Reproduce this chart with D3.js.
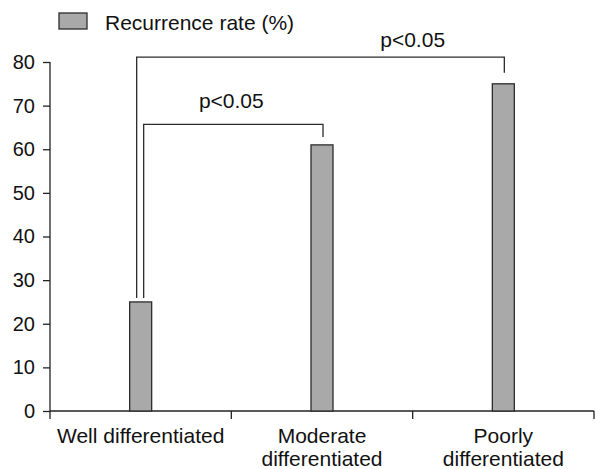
<!DOCTYPE html>
<html>
<head>
<meta charset="utf-8">
<script src="https://cdn.jsdelivr.net/npm/d3@7"></script>
<style>
  body { margin: 0; background: #fff; }
  text { font-family: "Liberation Sans", Arial, sans-serif; fill: #111; }
</style>
</head>
<body>
<svg id="chart" width="595" height="469"></svg>
<script>
const categories = ["Well differentiated", "Moderate\ndifferentiated", "Poorly\ndifferentiated"];
const recurrence = [25, 61, 75];
const yTicks = [0, 10, 20, 30, 40, 50, 60, 70, 80];
// significance brackets: from category, to category, bracket level (in %)
const brackets = [
  { from: 0, to: 1, level: 65.7, label: "p<0.05" },
  { from: 0, to: 2, level: 81.1, label: "p<0.05" }
];
// bracket drawing tweaks (px): leg offsets from bar centres, gap above bars, label gap
const bracketStyle = [
  { dxFrom: 3, dxTo: 1, gapTo: 8, labelGap: 16 },
  { dxFrom: -4, dxTo: 1, gapTo: 11, labelGap: 10.5 }
];

const colors = { bar: '#a9a9a9', stroke: '#2b2b2b', axis: '#222' };
const margin = { top: 62, right: 1, bottom: 58, left: 50 };
const width = 595, height = 469;

const svg = d3.select("#chart");

const x = d3.scaleBand()
  .domain(d3.range(categories.length))
  .range([margin.left, width - margin.right])
  .paddingInner(0).paddingOuter(0);

const y = d3.scaleLinear()
  .domain([0, 80])
  .range([height - margin.bottom, margin.top]);

const barW = 22;

// y axis
const yAxis = svg.append("g")
  .attr("transform", `translate(${margin.left},0)`)
  .call(d3.axisLeft(y).tickValues(yTicks).tickSize(7).tickPadding(8));
yAxis.select(".domain").attr("stroke", colors.axis).attr("stroke-width", 1.3)
  .attr("d", `M0,${y(80)}V${y(0) + 8}`);
yAxis.selectAll(".tick line").attr("stroke", colors.axis).attr("stroke-width", 1.3);
yAxis.selectAll(".tick text").style("font-size", "20px").attr("fill", "#111");

// x axis with ticks at band boundaries
const xAxis = svg.append("g").attr("transform", `translate(0,${y(0)})`);
xAxis.append("line")
  .attr("x1", margin.left).attr("x2", width - margin.right)
  .attr("stroke", colors.axis).attr("stroke-width", 1.3);
const bounds = d3.range(categories.length + 1).map(i => margin.left + i * x.bandwidth());
xAxis.selectAll("line.tick")
  .data(bounds.slice(1))
  .enter().append("line")
  .attr("class", "tick")
  .attr("x1", d => d).attr("x2", d => d)
  .attr("y1", 0).attr("y2", 8)
  .attr("stroke", colors.axis).attr("stroke-width", 1.3);

xAxis.selectAll("text.cat")
  .data(categories)
  .enter().append("text")
  .attr("class", "cat")
  .attr("text-anchor", "middle")
  .style("font-size", "21px")
  .attr("x", (d, i) => x(i) + x.bandwidth() / 2)
  .each(function (d) {
    const lines = d.split("\n");
    d3.select(this).selectAll("tspan")
      .data(lines)
      .enter().append("tspan")
      .attr("x", d3.select(this).attr("x"))
      .attr("y", (l, j) => 32 + j * 23)
      .text(l => l);
  });

// bars
svg.selectAll("rect.bar")
  .data(recurrence)
  .enter().append("rect")
  .attr("class", "bar")
  .attr("x", (d, i) => x(i) + x.bandwidth() / 2 - barW / 2)
  .attr("y", d => y(d))
  .attr("width", barW)
  .attr("height", d => y(0) - y(d))
  .attr("fill", colors.bar)
  .attr("stroke", colors.stroke)
  .attr("stroke-width", 1.3);

// brackets
const cx = i => x(i) + x.bandwidth() / 2;
brackets.forEach((b, k) => {
  const s = bracketStyle[k];
  const x1 = cx(b.from) + s.dxFrom, x2 = cx(b.to) + s.dxTo;
  const yl = y(b.level);
  svg.append("path")
    .attr("d", `M${x1},${y(recurrence[b.from]) - 4}V${yl}H${x2}V${y(recurrence[b.to]) - s.gapTo}`)
    .attr("fill", "none")
    .attr("stroke", colors.stroke)
    .attr("stroke-width", 1.3);
  // label sits between the last two categories spanned
  svg.append("text")
    .attr("x", (cx(b.to - 1) + cx(b.to)) / 2)
    .attr("y", yl - s.labelGap)
    .attr("text-anchor", "middle")
    .style("font-size", "21px")
    .text(b.label);
});

// legend
svg.append("rect")
  .attr("x", 59).attr("y", 13).attr("width", 28).attr("height", 16)
  .attr("fill", colors.bar).attr("stroke", colors.stroke).attr("stroke-width", 1.3);
svg.append("text")
  .attr("x", 105).attr("y", 30)
  .style("font-size", "21px")
  .text("Recurrence rate (%)");
</script>
</body>
</html>
